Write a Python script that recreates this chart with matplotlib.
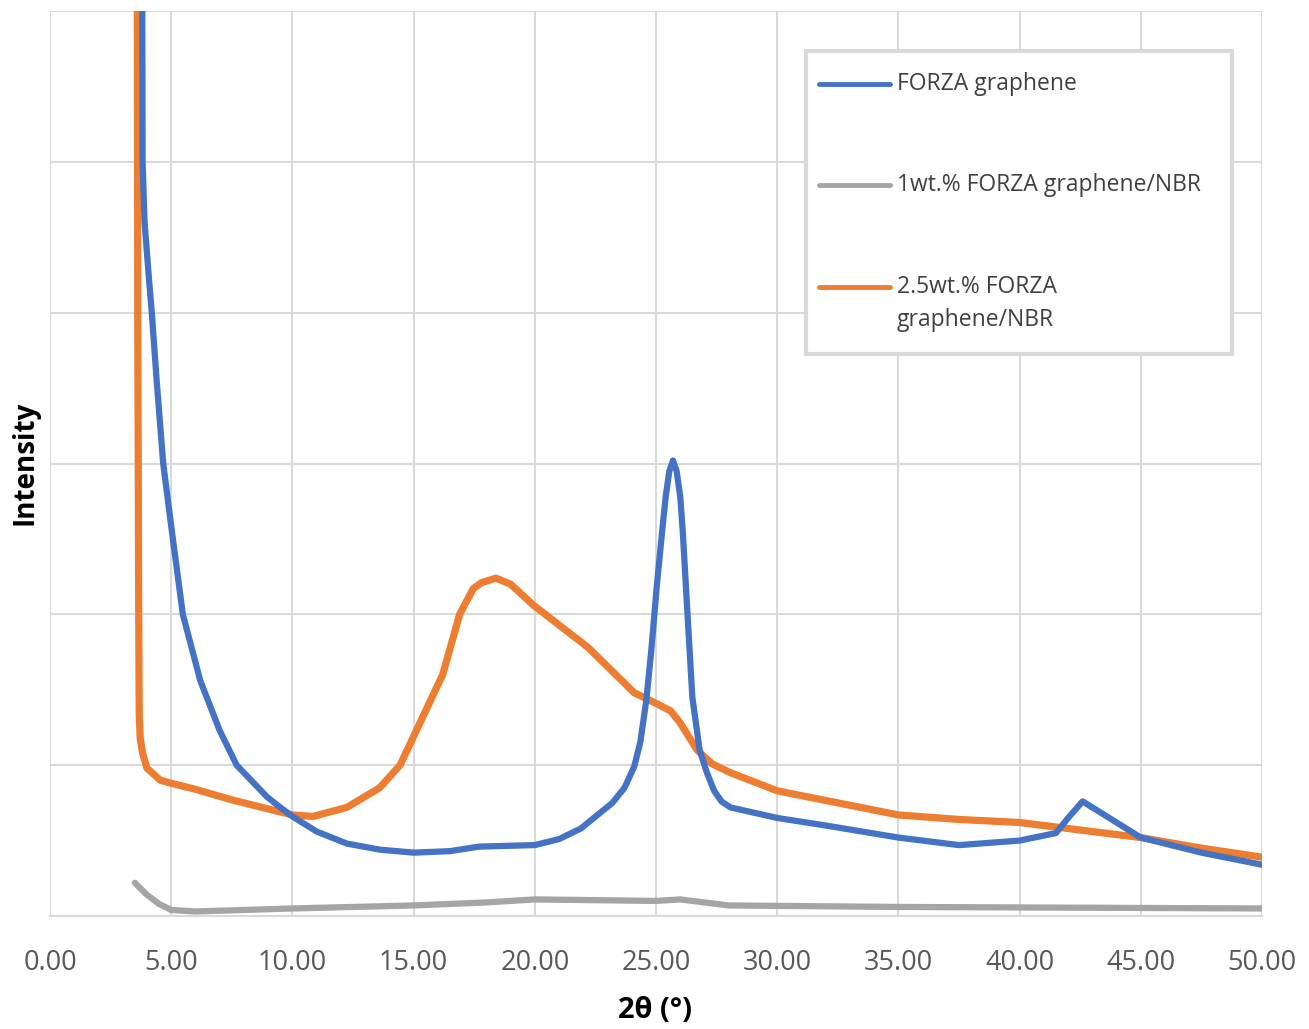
import matplotlib.pyplot as plt
from matplotlib.lines import Line2D
from matplotlib.patches import Rectangle

# --- data (intensity in arbitrary grid units, 0..6) ---
blue_x = [3.80, 3.82, 3.90, 4.09, 4.20, 4.40, 4.67, 5.02, 5.48, 6.20, 7.00, 7.70,
          8.95, 9.5, 10.0, 11.0, 12.25, 13.6, 15.0, 16.5, 17.7, 20.0, 21.0, 21.9,
          23.2, 23.7, 24.1, 24.35, 24.6, 24.8, 25.04, 25.26, 25.4, 25.55, 25.7,
          25.85, 26.0, 26.1, 26.3, 26.5, 26.8, 27.1, 27.4, 27.7, 28.07, 30.0,
          32.0, 35.0, 37.5, 40.0, 41.5, 42.0, 42.6, 43.5, 44.5, 45.0, 47.5, 50.0]
blue_y = [6.6, 5.0, 4.6, 4.21, 4.00, 3.55, 3.00, 2.56, 2.00, 1.56, 1.23, 1.00,
          0.79, 0.72, 0.66, 0.56, 0.48, 0.44, 0.42, 0.43, 0.46, 0.47, 0.51, 0.58,
          0.75, 0.85, 0.99, 1.15, 1.43, 1.75, 2.20, 2.56, 2.78, 2.95, 3.02,
          2.95, 2.78, 2.56, 2.00, 1.45, 1.10, 0.95, 0.83, 0.76, 0.72, 0.65,
          0.60, 0.52, 0.47, 0.50, 0.55, 0.65, 0.76, 0.67, 0.57, 0.52, 0.42, 0.34]

orange_x = [3.60, 3.62, 3.66, 3.68, 3.72, 3.82, 4.00, 4.55, 5.0, 6.0, 7.5, 9.0,
            10.0, 10.85, 12.25, 13.6, 14.44, 15.0, 15.7, 16.2, 16.9, 17.46, 17.8,
            18.4, 19.0, 19.95, 22.2, 24.1, 25.0, 25.6, 26.0, 26.7, 27.3, 28.07,
            30.0, 32.5, 35.0, 37.5, 40.0, 42.5, 45.0, 47.5, 50.0]
orange_y = [6.6, 4.0, 2.0, 1.34, 1.18, 1.08, 0.98, 0.90, 0.88, 0.84, 0.77, 0.71,
            0.67, 0.66, 0.72, 0.85, 1.00, 1.19, 1.43, 1.60, 2.00, 2.17, 2.21,
            2.24, 2.20, 2.06, 1.78, 1.48, 1.41, 1.36, 1.28, 1.10, 1.01, 0.95,
            0.83, 0.75, 0.67, 0.64, 0.62, 0.57, 0.52, 0.45, 0.39]

gray_x = [3.50, 4.0, 4.5, 5.0, 6.0, 8.0, 10.0, 15.0, 18.0, 20.0, 25.0, 26.0, 28.0,
          35.0, 50.0]
gray_y = [0.22, 0.14, 0.08, 0.04, 0.03, 0.04, 0.05, 0.07, 0.09, 0.11, 0.10, 0.11,
          0.07, 0.06, 0.05]

labels = ['FORZA graphene', '1wt.% FORZA graphene/NBR', '2.5wt.% FORZA\ngraphene/NBR']
colors = ['#4472C4', '#A5A5A5', '#ED7D31']
xticks = [0, 5, 10, 15, 20, 25, 30, 35, 40, 45, 50]

plt.rcParams['font.family'] = ['Open Sans', 'DejaVu Sans']

fig = plt.figure(figsize=(13.09, 10.29), dpi=100)
ax = fig.add_axes([50 / 1309, 113 / 1029, 1212 / 1309, 905 / 1029])

ax.plot(gray_x, gray_y, color=colors[1], lw=4.5, solid_capstyle='round',
        solid_joinstyle='round')
ax.plot(orange_x, orange_y, color=colors[2], lw=5.2, solid_capstyle='round',
        solid_joinstyle='round')
ax.plot(blue_x, blue_y, color=colors[0], lw=4.5, solid_capstyle='round',
        solid_joinstyle='round')

ax.set_xlim(0, 50)
ax.set_ylim(0, 6)
ax.set_xticks(xticks)
ax.set_xticklabels(['%.2f' % t for t in xticks])
ax.set_yticks(range(7))
ax.set_yticklabels([])
ax.tick_params(length=0, labelsize=19.5, colors='#595959', pad=24)
ax.grid(True, color='#d9d9d9', lw=1.5)
ax.set_axisbelow(True)
for s in ['top', 'right', 'left']:
    ax.spines[s].set_visible(False)
ax.spines['bottom'].set_color('#d9d9d9')
ax.spines['bottom'].set_linewidth(1.5)

fig.text(655 / 1309, 1 - 1010 / 1029, '2θ (°)', fontsize=21, fontweight='bold',
         ha='center', va='center')
fig.text(25 / 1309, 1 - 463 / 1029, 'Intensity', fontsize=20, fontweight='bold',
         ha='center', va='center', rotation=90)

# legend box drawn by hand so the orange handle sits on the first text line
def px(xp, yp):
    return (xp - 50) / 1212, (916 - yp) / 905

x0, y0 = px(806, 354)
x1, y1 = px(1232, 51)
ax.add_patch(Rectangle((x0, y0), x1 - x0, y1 - y0, transform=ax.transAxes,
                       facecolor='white', edgecolor='#d9d9d9', lw=3, zorder=5))
for lab, col, yp in zip(labels, colors, [84, 185, 287]):
    ha, hy = px(819, yp)
    hb, _ = px(890, yp)
    ax.add_line(Line2D([ha, hb], [hy, hy], transform=ax.transAxes, color=col,
                       lw=3.5, solid_capstyle='round', zorder=6))
    tx, ty = px(897, yp - 12)
    ax.text(tx, ty, lab, transform=ax.transAxes, fontsize=16.5, color='#404040',
            va='top', ha='left', zorder=6, linespacing=1.5)

fig.savefig('out.png', dpi=100)
